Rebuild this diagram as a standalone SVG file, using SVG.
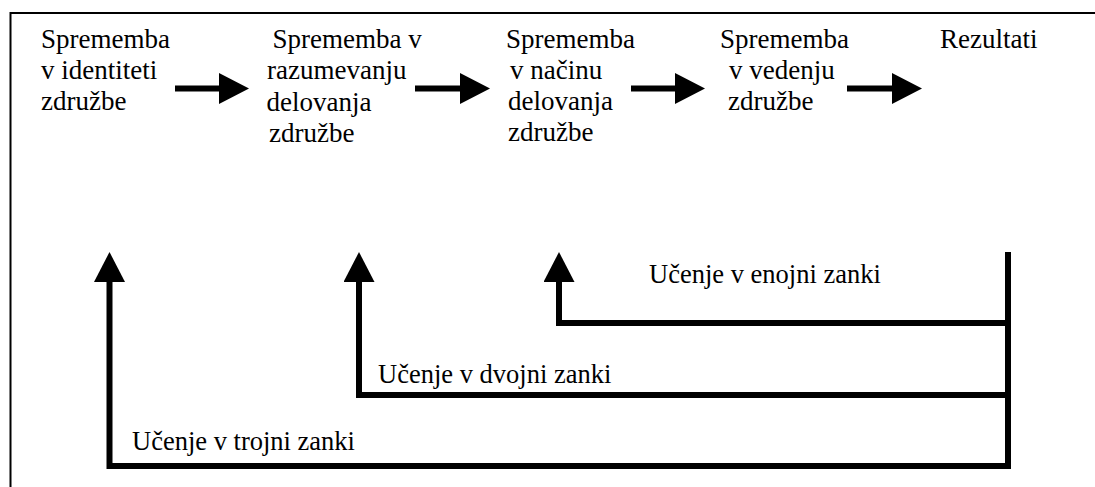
<svg xmlns="http://www.w3.org/2000/svg" width="1095" height="487" viewBox="0 0 1095 487">
<style>
  .n { font-size: 27px; }
  .lbl { font-size: 26.5px; }
  .c { fill: none; stroke: #000; stroke-width: 6; stroke-linejoin: miter; stroke-linecap: butt; }
</style>
<defs>
  <marker id="ah" markerUnits="userSpaceOnUse" markerWidth="30" markerHeight="31" refX="0" refY="15.5" orient="auto" viewBox="0 0 30 31">
    <path d="M0,0 L30,15.5 L0,31 Z" fill="#000"/>
  </marker>
</defs>
<rect x="0" y="0" width="1095" height="487" fill="#fff"/>
<rect id="frame" x="10.5" y="13" width="1110" height="510" fill="none" stroke="#000" stroke-width="2"/>

<g font-family="Liberation Serif, Times New Roman, DejaVu Serif, serif" fill="#000">
<g id="n1">
  <text class="n" x="41" y="48">Sprememba</text>
  <text class="n" x="41" y="79">v identiteti</text>
  <text class="n" x="41" y="110">združbe</text>
</g>
<g id="n2">
  <text class="n" x="272.5" y="48">Sprememba v</text>
  <text class="n" x="267" y="79">razumevanju</text>
  <text class="n" x="266.5" y="111">delovanja</text>
  <text class="n" x="269" y="142">združbe</text>
</g>
<g id="n3">
  <text class="n" x="506" y="48">Sprememba</text>
  <text class="n" x="510" y="79">v načinu</text>
  <text class="n" x="508" y="110">delovanja</text>
  <text class="n" x="508" y="141">združbe</text>
</g>
<g id="n4">
  <text class="n" x="720" y="48">Sprememba</text>
  <text class="n" x="729" y="79">v vedenju</text>
  <text class="n" x="728" y="110">združbe</text>
</g>
<g id="n5">
  <text class="n" x="940" y="48">Rezultati</text>
</g>
<g id="labels">
  <text class="lbl" x="649" y="283">Učenje v enojni zanki</text>
  <text class="lbl" x="378" y="383">Učenje v dvojni zanki</text>
  <text class="lbl" x="132" y="450">Učenje v trojni zanki</text>
</g>
</g>

<g id="connectors">
  <path class="c" d="M175,88.5 H219" marker-end="url(#ah)"/>
  <path class="c" d="M415,88.5 H460" marker-end="url(#ah)"/>
  <path class="c" d="M631,88.5 H675" marker-end="url(#ah)"/>
  <path class="c" d="M847,88.5 H892" marker-end="url(#ah)"/>
  <path class="c" d="M1008,252 V469"/>
  <path class="c" d="M1008,323 H559 V282" marker-end="url(#ah)"/>
  <path class="c" d="M1008,395 H359 V282" marker-end="url(#ah)"/>
  <path class="c" d="M1008,466 H109.5 V282" marker-end="url(#ah)"/>
</g>
</svg>
